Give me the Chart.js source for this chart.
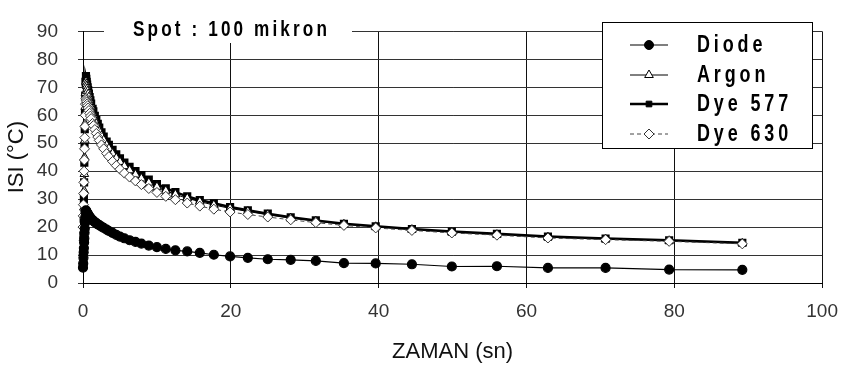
<!DOCTYPE html>
<html>
<head>
<meta charset="utf-8">
<script src="https://cdn.jsdelivr.net/npm/chart.js@4.4.1/dist/chart.umd.min.js"></script>
<style>
  html, body { margin: 0; padding: 0; background: #fff; }
</style>
</head>
<body>
<canvas id="grafiek" width="850" height="373"></canvas>
<script>
// tijd in seconden (x-as)
const zaman = [0, 0.03, 0.06, 0.09, 0.12, 0.15, 0.18, 0.21, 0.24, 0.27, 0.3, 0.33,
  0.4, 0.45, 0.5, 0.56, 0.63, 0.7, 0.8, 0.9, 1.0, 1.1, 1.3, 1.4, 1.6, 1.8, 2.0, 2.2,
  2.5, 2.8, 3.2, 3.5, 4.0, 4.5, 5.0, 5.6, 6.3, 7.1, 7.9, 8.9, 10.0, 11.2, 12.5, 14.1,
  15.8, 17.7, 19.9, 22.3, 25.0, 28.1, 31.5, 35.3, 39.6, 44.5, 49.9, 56.0, 62.9, 70.7,
  79.3, 89.2];

// temperatuur per laser (y-as)
const diode = [5.5, 7, 9, 11, 12.5, 14.5, 16, 18, 19.5, 21.5, 23.5, 25.5,
  26, 25.7, 25.4, 25.1, 24.8, 24.5, 24.1, 23.7, 23.3, 23, 22.5, 22.2, 21.8, 21.4, 21, 20.7,
  20.2, 19.7, 19.1, 18.6, 17.9, 17.2, 16.6, 16, 15.3, 14.7, 14.1, 13.4, 12.8, 12.2, 11.7, 11.3,
  10.8, 10.1, 9.5, 9, 8.5, 8.3, 7.9, 7.1, 7, 6.7, 5.9, 6, 5.4, 5.4, 4.8, 4.7];
const argon = [6, 11, 16, 21, 27, 33, 39, 45, 51, 57, 63, 68,
  72, 71.2, 70.4, 69.5, 68.6, 67.6, 66.5, 65.2, 64, 62.9, 61, 60.1, 58.5, 57, 55.6, 54.3,
  52.6, 51.1, 49.3, 48.1, 46.3, 44.7, 43.3, 41.8, 40.3, 38.8, 37.4, 35.9, 34.4, 33, 31.7, 30.3,
  29.1, 27.9, 26.7, 25.6, 24.4, 23.2, 22.1, 21, 20.1, 19.1, 18.2, 17.3, 16.4, 15.7, 15.1, 14.2];
const dye577 = [6, 11, 17, 23, 30, 36, 43, 49, 55, 61, 67, 72,
  74, 73, 72, 71, 70, 69, 67.8, 66.5, 65.3, 64.2, 62.3, 61.4, 59.8, 58.3, 56.9, 55.6,
  53.9, 52.4, 50.6, 49.4, 47.6, 46, 44.6, 43.1, 41.6, 40, 38.6, 37, 35.4, 33.9, 32.5, 31,
  29.7, 28.5, 27.2, 26, 24.8, 23.5, 22.4, 21.2, 20.3, 19.3, 18.4, 17.6, 16.6, 15.9, 15.3, 14.4];
const dye630 = [20, 24, 28, 32, 36, 40, 44, 48, 52, 56, 60, 64,
  66, 65.4, 64.8, 64.1, 63.4, 62.6, 61.7, 60.7, 59.7, 58.8, 57.1, 56.3, 54.9, 53.5, 52.2, 51,
  49.4, 48, 46.3, 45.2, 43.5, 42, 40.7, 39.3, 37.9, 36.5, 35.2, 33.8, 32.4, 31, 29.8, 28.6,
  27.5, 26.4, 25.4, 24.5, 23.6, 22.6, 21.6, 20.6, 19.7, 18.8, 17.9, 17.1, 16.1, 15.5, 14.9, 14];

const labels = ["Diode", "Argon", "Dye 577", "Dye 630"];
const xTicks = [0, 20, 40, 60, 80, 100];
const yTicks = [0, 10, 20, 30, 40, 50, 60, 70, 80, 90];
const spotText = "Spot : 100 mikron";

const sans = '"Liberation Sans", Arial, sans-serif';

function maakPunten(waarden) {
  return zaman.map((t, i) => ({ x: t, y: waarden[i] }));
}

const datasets = [
  { label: labels[0], data: maakPunten(diode), borderColor: "#000", borderWidth: 1.2,
    pointStyle: "circle", pointRadius: 4.5, pointBackgroundColor: "#000", pointBorderColor: "#000", order: 0 },
  { label: labels[1], data: maakPunten(argon), borderColor: "#000", borderWidth: 1,
    pointStyle: "triangle", pointRadius: 5, pointBackgroundColor: "#fff", pointBorderColor: "#000", pointBorderWidth: 1, order: 2 },
  { label: labels[2], data: maakPunten(dye577), borderColor: "#000", borderWidth: 2.5,
    pointStyle: "rect", pointRadius: 4, pointBackgroundColor: "#000", pointBorderColor: "#000", order: 3 },
  { label: labels[3], data: maakPunten(dye630), borderColor: "#444", borderWidth: 1, borderDash: [4, 3],
    pointStyle: "rectRot", pointRadius: 5, pointBackgroundColor: "#fff", pointBorderColor: "#333", pointBorderWidth: 1, order: 1 }
];

// smalle tekst: horizontaal samengedrukt tekenen
function smalleTekst(ctx, tekst, x, y, size, spacing) {
  ctx.save();
  ctx.translate(x, y);
  ctx.scale(0.78, 1);
  ctx.font = "bold " + size + "px " + sans;
  ctx.letterSpacing = spacing + "px";
  ctx.textBaseline = "middle";
  ctx.textAlign = "left";
  ctx.fillStyle = "#000";
  ctx.fillText(tekst, 0, 0);
  ctx.restore();
}

// legenda en "Spot" tekst zelf tekenen
const extraTekst = {
  id: "extraTekst",
  afterDraw(chart) {
    const ctx = chart.ctx;
    ctx.save();

    // spot label
    ctx.fillStyle = "#fff";
    ctx.fillRect(104, 16, 248, 27);
    smalleTekst(ctx, spotText, 133, 30, 22, 4);

    // legenda
    const bx = 602, by = 22, bw = 210, bh = 126;
    ctx.fillStyle = "#fff";
    ctx.fillRect(bx, by, bw, bh);
    ctx.strokeStyle = "#000";
    ctx.lineWidth = 1;
    ctx.setLineDash([]);
    ctx.strokeRect(bx + 0.5, by + 0.5, bw, bh);

    const rijen = [45, 75, 104, 134];
    chart.data.datasets.forEach((ds, i) => {
      const y = rijen[i];
      ctx.strokeStyle = ds.borderColor;
      ctx.lineWidth = ds.borderWidth;
      ctx.setLineDash(ds.borderDash || []);
      ctx.beginPath();
      ctx.moveTo(630, y);
      ctx.lineTo(668, y);
      ctx.stroke();
      ctx.setLineDash([]);
      ctx.fillStyle = ds.pointBackgroundColor;
      ctx.strokeStyle = ds.pointBorderColor;
      ctx.lineWidth = ds.pointBorderWidth || 1;
      Chart.helpers.drawPoint(ctx, { pointStyle: ds.pointStyle, radius: ds.pointRadius, rotation: 0, borderWidth: ds.pointBorderWidth || 1 }, 649, y);
      smalleTekst(ctx, ds.label, 697, y + 1, 23, 5);
    });
    ctx.restore();
  }
};

new Chart(document.getElementById("grafiek"), {
  type: "scatter",
  data: { datasets: datasets.map(d => Object.assign({ showLine: true, tension: 0, fill: false, clip: false }, d)) },
  options: {
    responsive: false,
    animation: false,
    layout: { padding: { top: 15, right: 17, left: 0, bottom: 0 } },
    plugins: { legend: { display: false }, tooltip: { enabled: false } },
    scales: {
      x: {
        type: "linear", min: 0, max: 100,
        afterFit: s => { s.height = 90; },
        afterBuildTicks: s => { s.ticks = xTicks.map(v => ({ value: v })); },
        ticks: { autoSkip: false, maxRotation: 0, padding: 12, color: "#333", font: { family: sans, size: 19 } },
        grid: { color: "#111", lineWidth: 1, tickLength: 5 },
        border: { color: "#000", width: 1 },
        title: { display: true, text: "ZAMAN (sn)", color: "#111", padding: { top: 4, bottom: 8 },
          font: { family: sans, size: 22 } }
      },
      y: {
        type: "linear", min: 0, max: 90,
        afterFit: s => { s.width = 83; },
        afterBuildTicks: s => { s.ticks = yTicks.map(v => ({ value: v })); },
        ticks: { autoSkip: false, padding: 20, color: "#333", font: { family: sans, size: 19 } },
        grid: { color: "#333", lineWidth: 1, tickLength: 5 },
        border: { color: "#000", width: 1 },
        title: { display: true, text: "ISI (°C)", color: "#111", padding: { top: 4, bottom: 4 },
          font: { family: sans, size: 22 } }
      }
    }
  },
  plugins: [extraTekst]
});
</script>
</body>
</html>
